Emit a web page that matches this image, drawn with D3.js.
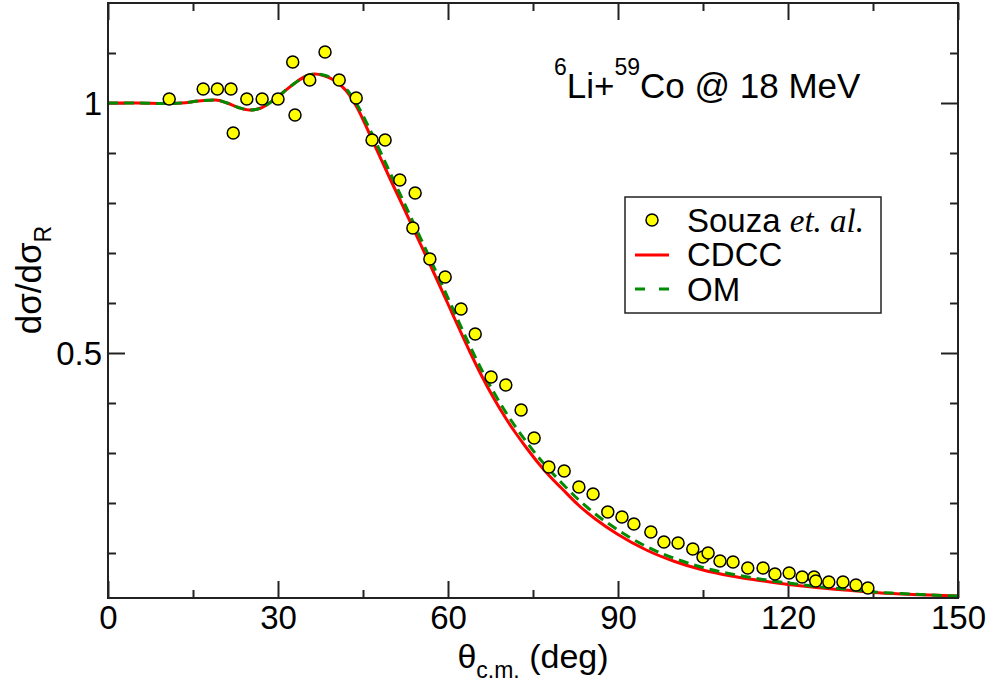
<!DOCTYPE html>
<html>
<head>
<meta charset="utf-8">
<script src="https://cdn.jsdelivr.net/npm/d3@7"></script>
<style>
  body { margin: 0; background: #fff; }
  svg { display: block; font-family: "Liberation Sans", Arial, Helvetica, sans-serif; }
</style>
</head>
<body>
<svg id="chart"></svg>
<script>
// experimental points (Souza et al.)
var expTheta = [10.8, 16.8, 19.3, 21.7, 22.1, 24.5, 27.2, 30.0, 32.6, 33.0, 35.6, 38.3, 40.8, 43.8,
                46.6, 48.9, 51.5, 54.2, 53.8, 56.8, 59.5, 62.3, 64.8, 67.6, 70.2, 72.9, 75.2, 77.8,
                80.5, 83.1, 85.6, 88.2, 90.7, 92.8, 95.8, 98.1, 100.6, 103.2, 105.0, 105.9, 108.0,
                110.3, 112.9, 115.6, 117.7, 120.2, 122.5, 124.6, 124.9, 127.2, 129.7, 132.0, 134.1];
var expRatio = [1.008, 1.028, 1.028, 1.028, 0.940, 1.008, 1.008, 1.008, 1.082, 0.976, 1.046, 1.102, 1.046, 1.010,
                0.926, 0.926, 0.846, 0.820, 0.750, 0.688, 0.652, 0.588, 0.538, 0.452, 0.436, 0.386, 0.330, 0.272,
                0.264, 0.232, 0.218, 0.182, 0.172, 0.158, 0.142, 0.122, 0.120, 0.108, 0.092, 0.100, 0.084,
                0.082, 0.070, 0.070, 0.058, 0.060, 0.052, 0.052, 0.044, 0.042, 0.042, 0.036, 0.030];

// calculations
var calcTheta = [0, 5, 10, 13, 16, 19, 21, 23, 25, 27, 29, 31, 33, 35, 36.5, 38, 40, 42, 44, 46, 48, 50,
                 52, 54, 56, 58, 60, 62, 64, 66, 68, 70, 72, 74, 76, 78, 80, 83, 86, 90, 95, 100,
                 105, 110, 115, 120, 125, 130, 135, 140, 145, 150];
var cdcc = [1.000, 1.000, 0.999, 1.000, 1.004, 1.006, 1.000, 0.991, 0.986, 0.990, 1.004, 1.022, 1.040, 1.054, 1.058, 1.055, 1.045, 1.025, 0.990, 0.942, 0.892, 0.843,
            0.795, 0.746, 0.697, 0.648, 0.598, 0.548, 0.499, 0.453, 0.411, 0.373, 0.339, 0.308, 0.279, 0.253, 0.230, 0.196, 0.168, 0.137, 0.106, 0.083,
            0.066, 0.054, 0.045, 0.037, 0.031, 0.026, 0.021, 0.018, 0.016, 0.014];
var om   = [1.000, 1.000, 0.999, 1.000, 1.004, 1.006, 1.000, 0.991, 0.986, 0.990, 1.004, 1.022, 1.040, 1.054, 1.058, 1.056, 1.047, 1.029, 0.996, 0.952, 0.904, 0.855,
            0.807, 0.758, 0.709, 0.660, 0.610, 0.560, 0.511, 0.465, 0.423, 0.385, 0.351, 0.320, 0.291, 0.265, 0.241, 0.207, 0.178, 0.146, 0.113, 0.089,
            0.071, 0.058, 0.048, 0.040, 0.033, 0.028, 0.022, 0.019, 0.016, 0.014];

var xMajor = [0, 30, 60, 90, 120, 150];
var xMinor = [15, 45, 75, 105, 135];
var yMajor = [0.5, 1];
var yMinor = [0.1, 0.2, 0.3, 0.4, 0.6, 0.7, 0.8, 0.9, 1.1];

var W = 989, H = 684;
var svg = d3.select("#chart").attr("width", W).attr("height", H);

var x = d3.scaleLinear().domain([0, 150]).range([108, 958]);
var y = d3.scaleLinear().domain([0.01, 1.2]).range([598, 3]);

//ticks
function tickAxis(axisFn, scale, vals, size, tr, labels) {
    var a = axisFn(scale).tickValues(vals).tickSize(size).tickPadding(8);
    if (!labels) a.tickFormat("");
    else a.tickFormat(function (d) { return d3.format("")(d); });
    var g = svg.append("g").attr("transform", tr).call(a);
    g.select(".domain").remove();
    g.selectAll("line").attr("stroke", "#222").attr("stroke-width", 2);
    g.selectAll("text").attr("fill", "#000").style("font-size", "33px")
        .style("font-family", "'Liberation Sans', Arial, sans-serif");
    return g;
}
tickAxis(d3.axisBottom, x, xMajor, -17, "translate(0,598)", true)
    .selectAll("text").attr("y", 8).attr("dy", "0.71em");
tickAxis(d3.axisBottom, x, xMinor, -8, "translate(0,598)", false);
tickAxis(d3.axisTop, x, xMajor, -17, "translate(0,3)", false);
tickAxis(d3.axisTop, x, xMinor, -8, "translate(0,3)", false);
tickAxis(d3.axisLeft, y, yMajor, -17, "translate(108,0)", true)
    .selectAll("text").attr("x", -6).attr("dy", "0.36em");
tickAxis(d3.axisLeft, y, yMinor, -8, "translate(108,0)", false);
tickAxis(d3.axisRight, y, yMajor, -17, "translate(958,0)", false);
tickAxis(d3.axisRight, y, yMinor, -8, "translate(958,0)", false);

// curves
var clip = svg.append("clipPath").attr("id", "clip").append("rect")
    .attr("x", 108).attr("y", 3).attr("width", 850).attr("height", 595);

var line = d3.line()
    .x(function (d) { return x(d[0]); })
    .y(function (d) { return y(d[1]); })
    .curve(d3.curveMonotoneX);

var plot = svg.append("g").attr("clip-path", "url(#clip)");
plot.append("path")
    .datum(d3.zip(calcTheta, cdcc))
    .attr("d", line)
    .attr("fill", "none").attr("stroke", "#ff0000").attr("stroke-width", 3);
plot.append("path")
    .datum(d3.zip(calcTheta, om))
    .attr("d", line)
    .attr("fill", "none").attr("stroke", "#008c00").attr("stroke-width", 3)
    .attr("stroke-dasharray", "10,6");

plot.selectAll("circle.pt").data(d3.zip(expTheta, expRatio)).enter()
    .append("circle").attr("class", "pt")
    .attr("cx", function (d) { return x(d[0]); })
    .attr("cy", function (d) { return y(d[1]); })
    .attr("r", 6)
    .attr("fill", "#ffff00").attr("stroke", "#000").attr("stroke-width", 1.5);

// frame
svg.append("rect").attr("x", 108).attr("y", 3).attr("width", 850).attr("height", 595)
    .attr("fill", "none").attr("stroke", "#222").attr("stroke-width", 2);

// title
var title = svg.append("text").attr("x", 554).attr("y", 98).style("font-size", "35px").attr("fill", "#000");
title.append("tspan").text("6").style("font-size", "23px").attr("dy", -23);
title.append("tspan").text("Li+").attr("dy", 23);
title.append("tspan").text("59").style("font-size", "23px").attr("dy", -23);
title.append("tspan").text("Co @ 18 MeV").attr("dy", 23);

// legend
var lg = svg.append("g");
lg.append("rect").attr("x", 625).attr("y", 197).attr("width", 256).attr("height", 116)
    .attr("fill", "#fff").attr("stroke", "#222").attr("stroke-width", 1.5);
lg.append("circle").attr("cx", 652).attr("cy", 220).attr("r", 6)
    .attr("fill", "#ffff00").attr("stroke", "#000").attr("stroke-width", 1.5);
lg.append("line").attr("x1", 635).attr("x2", 669).attr("y1", 255).attr("y2", 255)
    .attr("stroke", "#ff0000").attr("stroke-width", 3);
lg.append("line").attr("x1", 635).attr("x2", 669).attr("y1", 289).attr("y2", 289)
    .attr("stroke", "#008c00").attr("stroke-width", 3).attr("stroke-dasharray", "10,14");
var t1 = lg.append("text").attr("x", 687).attr("y", 232).style("font-size", "33px");
t1.append("tspan").text("Souza ");
t1.append("tspan").text("et. al.").style("font-family", "'Liberation Serif', 'Times New Roman', serif")
    .style("font-style", "italic");
lg.append("text").attr("x", 687).attr("y", 266).style("font-size", "33px").text("CDCC");
lg.append("text").attr("x", 687).attr("y", 301).style("font-size", "33px").text("OM");

// axis labels
var xl = svg.append("text").attr("x", 533).attr("y", 668).attr("text-anchor", "middle").style("font-size", "34px");
xl.append("tspan").text("θ");
xl.append("tspan").text("c.m.").style("font-size", "23px").attr("dy", 10);
xl.append("tspan").text(" (deg)").attr("dy", -10);

var yl = svg.append("text").attr("transform", "translate(41,280) rotate(-90)")
    .attr("text-anchor", "middle").style("font-size", "35px");
yl.append("tspan").text("dσ/dσ");
yl.append("tspan").text("R").style("font-size", "23px").attr("dy", 10);
</script>
</body>
</html>
